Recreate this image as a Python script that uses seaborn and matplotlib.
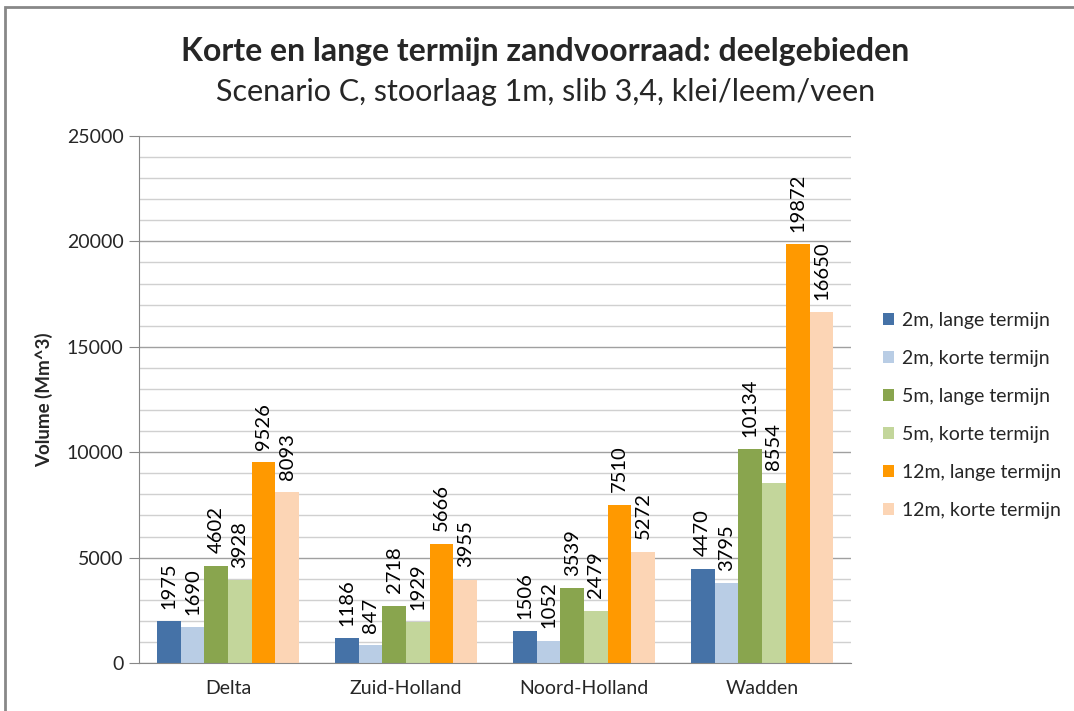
import pandas as pd
import matplotlib.pyplot as plt
import seaborn as sns
from matplotlib.patches import Rectangle

# === Data ===
regions = ["Delta", "Zuid-Holland", "Noord-Holland", "Wadden"]
series = ["2m, lange termijn", "2m, korte termijn", "5m, lange termijn",
          "5m, korte termijn", "12m, lange termijn", "12m, korte termijn"]
lange_2m = [1975, 1186, 1506, 4470]
korte_2m = [1690, 847, 1052, 3795]
lange_5m = [4602, 2718, 3539, 10134]
korte_5m = [3928, 1929, 2479, 8554]
lange_12m = [9526, 5666, 7510, 19872]
korte_12m = [8093, 3955, 5272, 16650]
colors = ["#4572A7", "#B9CDE5", "#89A54E", "#C3D69B", "#FF9900", "#FCD5B5"]

values = [lange_2m, korte_2m, lange_5m, korte_5m, lange_12m, korte_12m]
rows = []
for s, vals in zip(series, values):
    for r, v in zip(regions, vals):
        rows.append({"regio": r, "serie": s, "volume": v})
df = pd.DataFrame(rows)

# === Plot ===
sns.set_style("white")
plt.rcParams["font.family"] = ["Lato", "DejaVu Sans"]

fig = plt.figure(figsize=(10.74, 7.11), dpi=100)
ax = fig.add_axes([0.1294, 0.0675, 0.6630, 0.7412])

sns.barplot(data=df, x="regio", y="volume", hue="serie", order=regions,
            hue_order=series, palette=colors, width=0.8, saturation=1,
            edgecolor="none", ax=ax)

# data labels
for cont in ax.containers:
    ax.bar_label(cont, rotation=90, padding=9, fontsize=14.5, color="black")

ax.set_ylim(0, 25000)
ax.set_xlim(-0.5, 3.5)
ax.set_yticks(range(0, 25001, 5000))
ax.set_yticks(range(0, 25001, 1000), minor=True)
ax.grid(True, which="major", axis="y", color="#A0A0A0", lw=1)
ax.grid(True, which="minor", axis="y", color="#D0D0D0", lw=1)
ax.set_axisbelow(True)

# category separator ticks
ax.set_xticks([-0.5, 0.5, 1.5, 2.5, 3.5], minor=True)
ax.tick_params(axis="x", which="minor", length=7, color="#888888", width=1)
ax.tick_params(axis="x", which="major", length=0, labelsize=14, pad=12)
ax.tick_params(axis="y", which="major", length=7, color="#888888",
               labelsize=14, pad=4, left=True)
ax.tick_params(axis="y", which="minor", length=0)

for side in ["top", "right"]:
    ax.spines[side].set_visible(False)
for side in ["left", "bottom"]:
    ax.spines[side].set_color("#888888")

ax.set_xlabel("")
ax.set_ylabel("Volume (Mm^3)", fontsize=13.5, fontweight="bold", labelpad=10)

leg = ax.legend(loc="center left", bbox_to_anchor=(1.02, 0.47), frameon=False,
                fontsize=14, handlelength=0.6, handleheight=0.6,
                handletextpad=0.4, labelspacing=1.08)

fig.text(0.508, 0.927, "Korte en lange termijn zandvoorraad: deelgebieden",
         ha="center", va="center", fontsize=23, fontweight="bold")
fig.text(0.508, 0.870, "Scenario C, stoorlaag 1m, slib 3,4, klei/leem/veen",
         ha="center", va="center", fontsize=22)

# outer chart border
fig.patches.append(Rectangle((0.005, -0.01), 1.2, 1.0, transform=fig.transFigure,
                             fill=False, edgecolor="#888888", lw=2))

fig.savefig("out.png", dpi=100)
plt.close()
